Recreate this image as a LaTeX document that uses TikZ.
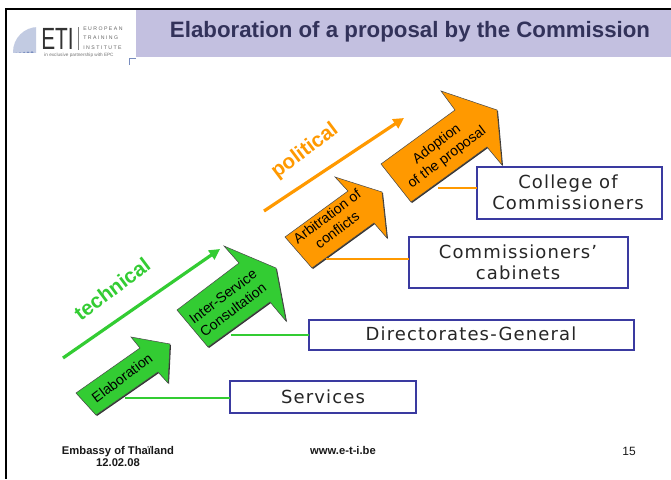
\documentclass[tikz,border=0pt]{standalone}
\usepackage{fontspec}
\setmainfont{Liberation Sans}
\newfontfamily\boxfont[LetterSpace=6.4]{DejaVu Sans}
\usetikzlibrary{arrows.meta}
\definecolor{grn}{RGB}{51,204,51}
\definecolor{org}{RGB}{255,153,0}
\definecolor{navy}{RGB}{58,58,160}
\definecolor{lav}{RGB}{195,192,224}
\definecolor{dome}{RGB}{120,140,190}
\definecolor{ink}{RGB}{50,50,90}
\tikzset{
 x=0.75pt,y=-0.75pt,
 bigarrow/.style={draw=black!70,line width=0.4pt,line join=miter},
 arrowshade/.style={fill=black!80,draw=none},
 arrowlabel/.style={font=\fontsize{10.6}{12.6}\selectfont,align=center,text=black,inner sep=0pt},
 lab/.style={font=\boxfont\fontsize{13.5}{15.75}\selectfont,align=center,text=black!85,inner sep=0pt},
 stagebox/.style={draw=navy,line width=1.9pt,fill=white},
 grnline/.style={draw=grn,line width=1.6pt},
 orgline/.style={draw=org,line width=1.6pt},
 trend/.style={line width=2.4pt,-{Triangle[length=8pt,width=8pt]}},
 trendlab/.style={font=\fontsize{15.4}{17}\selectfont,inner sep=0pt},
 foot/.style={font=\bfseries\fontsize{8.4}{9}\selectfont,align=center,inner sep=0pt,text=black!90},
}
\newcommand{\stagearrow}[8]{%
 \fill[arrowshade,shift={(1,1)}] #2 -- #3 -- #4 -- #5 -- #6 -- #7 -- #8 -- cycle;
 \filldraw[bigarrow,fill=#1] #2 -- #3 -- #4 -- #5 -- #6 -- #7 -- #8 -- cycle;
}
\begin{document}
\begin{tikzpicture}
\useasboundingbox (0,0) rectangle (671,479);
\fill[white] (0,0) rectangle (671,479);
% frame
\fill[black] (5,7.5) rectangle (671,10);
\fill[black] (5,7.5) rectangle (7,479);
% header
\fill[lav] (136,10) rectangle (671,57);
\node[font=\bfseries\fontsize{16.7}{18}\selectfont,text=ink,inner sep=0pt] (title) at (410,32) {Elaboration of a proposal by the Commission};
% logo
\begin{scope}
\clip (12,20) rectangle (36,52);
\fill[dome!45] (38,52) circle (25);
\foreach \r in {6,10,14,18,22}{\foreach \a in {100,115,...,175}{\fill[dome] (38,52) ++(\a:\r) circle (1.5);}}
\end{scope}
\node[font=\fontsize{23}{23}\selectfont,text=black!80,inner sep=0pt,xscale=0.68] (eti) at (57.5,39) {ETI};
\fill[black!50] (78,27) rectangle (78.6,50);
\node[font=\fontsize{3.9}{7}\selectfont,align=left,text=black!60,inner sep=0pt,anchor=west] (inst) at (83,38) {E U R O P E A N\\T R A I N I N G\\I N S T I T U T E};
\node[font=\fontsize{3.5}{4}\selectfont,text=black!55,inner sep=0pt] (part) at (79,55) {in exclusive partnership with EPC};
\draw[dome,line width=0.7pt] (129,65) -- (129,58) -- (136,58);
% trend arrows
\coordinate (t1) at (63,358); \coordinate (t2) at (220,249);
\coordinate (p1) at (264,211); \coordinate (p2) at (404,118);
\draw[trend,grn] (t1) -- (t2);
\draw[trend,org] (p1) -- (p2);
\node[trendlab,text=grn,rotate=37] (technical) at (112,289) {\bfseries technical};
\node[trendlab,text=org,rotate=37] (political) at (305,151) {\bfseries political};
% boxes
\draw[stagebox] (230,381) rectangle (416,413);
\draw[stagebox] (309,320) rectangle (634,350);
\draw[stagebox] (409,237) rectangle (628,288);
\draw[stagebox] (477,167) rectangle (662,219);
\coordinate (services) at (230,398);
\coordinate (dg) at (309,335);
\coordinate (cab) at (409,259);
\coordinate (col) at (477,188);
\node[lab] (servicesT) at (323,397) {Services};
\node[lab] (dgT) at (471,334) {Directorates-General};
\node[lab] (cabT) at (518,262) {Commissioners’\\cabinets};
\node[lab] (colT) at (568,192.5) {College of\\Commissioners};
% stage arrows
\stagearrow{grn}{(76,393)}{(96,415)}{(158,372)}{(168,383)}{(170,344)}{(131,337)}{(140,348)}
\stagearrow{grn}{(177,310)}{(208,347)}{(270,302)}{(286,321)}{(276,268)}{(224,246)}{(239,263)}
\stagearrow{org}{(285,237)}{(312,268)}{(374,223)}{(387,238)}{(382,192)}{(335,177)}{(348,191)}
\stagearrow{org}{(381,164)}{(411,202)}{(487,147)}{(502,165)}{(497,110)}{(441,91)}{(455,110)}
\node[arrowlabel,rotate=37] (elab) at (122,378) {Elaboration};
\node[arrowlabel,rotate=37] (isc) at (228,303) {Inter-Service\\Consultation};
\node[arrowlabel,rotate=37] (arb) at (332,223) {Arbitration of\\conflicts};
\node[arrowlabel,rotate=37] (adopt) at (442,151) {Adoption\\of the proposal};
% connectors
\coordinate (a1) at (125,398);
\coordinate (a2) at (231,335);
\coordinate (a3) at (326,259);
\coordinate (a4) at (438,188);
\draw[grnline] (a1) -- (services);
\draw[grnline] (a2) -- (dg);
\draw[orgline] (a3) -- (cab);
\draw[orgline] (a4) -- (col);
% footer
\node[foot] (embassy) at (118,456) {Embassy of Thaïland\\12.02.08};
\node[foot] (web) at (343,450) {www.e-t-i.be};
\node[font=\fontsize{9}{10}\selectfont,inner sep=0pt,text=black!90] (page) at (629,451) {15};
\end{tikzpicture}
\end{document}
